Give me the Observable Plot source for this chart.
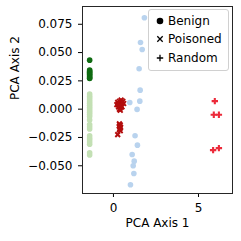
<!DOCTYPE html>
<html><head><meta charset="utf-8">
<script src="https://cdn.jsdelivr.net/npm/d3@7"></script>
<script src="https://cdn.jsdelivr.net/npm/@observablehq/plot@0.6"></script>
<style>
body{margin:0;background:#fff;}
#wrap{position:relative;width:241px;height:241px;font-family:"DejaVu Sans",sans-serif;}
#legend{position:absolute;left:148px;top:9px;width:79px;height:60px;border:1px solid #d0d0d0;border-radius:3px;background:rgba(255,255,255,0.85);font-size:12px;color:#000;}
.row{position:absolute;left:0;height:18px;line-height:18px;white-space:nowrap}
.sym{position:absolute;left:7px;top:5px;width:8px;height:8px}
.lab{position:absolute;left:19px}
</style></head>
<body>
<div id="wrap"></div>
<script>
// Tick values and labels
const xTicks = [0, 5];
const yTicks = [-0.05, -0.025, 0, 0.025, 0.05, 0.075];
const xLabel = "PCA Axis 1";
const yLabel = "PCA Axis 2";
const legendLabels = ["Benign", "Poisoned", "Random"];

// Benign, dark green column
const darkGreenX = [-1.4,-1.4,-1.4,-1.4,-1.4,-1.4,-1.4,-1.4,-1.4,-1.4];
const darkGreenY = [0.0433,0.0346,0.0336,0.0326,0.0316,0.0306,0.0296,0.0286,0.0276,0.0271];
// Benign, light green column
const lightGreenX = [-1.4,-1.4,-1.4,-1.4,-1.4,-1.4,-1.4,-1.4,-1.4,-1.4,-1.4,-1.4,-1.4,-1.4,-1.4,-1.4,-1.4,-1.4,-1.4,-1.4,-1.4,-1.4,-1.4,-1.4];
const lightGreenY = [0.0133,0.0115,0.0098,0.0082,0.0066,0.005,0.0034,0.0018,0.0002,-0.0014,-0.003,-0.0046,-0.0065,-0.0095,-0.0135,-0.0155,-0.0175,-0.0235,-0.0255,-0.027,-0.029,-0.031,-0.0385,-0.0405];
// Benign, light blue scatter
const blueX = [1.82,1.59,1.69,1.51,1.57,1.55,0.96,1.39,1.27,1.41,1.10,1.22,1.16,1.20,1.00];
const blueY = [0.0807,0.0589,0.0527,0.0357,0.0168,0.0071,0.0059,-0.0002,-0.0235,-0.0318,-0.040,-0.0459,-0.050,-0.0568,-0.0668];
// Poisoned
const poisonedX = [0.25,0.30,0.35,0.40,0.45,0.50,0.55,0.30,0.40,0.45,0.35,0.50,0.20,0.60,0.40,0.38,0.35,0.40,0.35,0.42,0.38,0.35,0.40,0.25];
const poisonedY = [0.006,0.004,0.007,0.005,0.008,0.006,0.007,0.002,0.001,0.003,0.000,0.002,0.004,0.005,-0.001,0.0035,-0.013,-0.014,-0.015,-0.016,-0.017,-0.018,-0.019,-0.0225];
// Random
const randomX = [5.96,5.90,6.20,5.86,6.20];
const randomY = [0.0071,-0.0049,-0.0049,-0.0362,-0.0344];

const pts = (xs, ys) => xs.map((x, i) => ({x, y: ys[i]}));

const plot = Plot.plot({
  width: 241, height: 241,
  marginLeft: 82, marginRight: 9, marginTop: 6, marginBottom: 48,
  style: {fontFamily: "DejaVu Sans", fontSize: "12px", color: "#000", background: "transparent"},
  x: {domain: [-1.82, 7.0]},
  y: {domain: [-0.0745, 0.0907]},
  marks: [
    Plot.axisX({ticks: xTicks, tickFormat: d3.format("d"), tickSize: 4, tickPadding: 6, label: null, fontSize: 12}),
    Plot.axisY({ticks: yTicks, tickFormat: d3.format(".3f"), tickSize: 4, tickPadding: 6, label: null, fontSize: 12}),
    Plot.dot(pts(lightGreenX, lightGreenY), {x: "x", y: "y", r: 2.8, fill: "#c3e0b4", stroke: "none"}),
    Plot.dot(pts(darkGreenX, darkGreenY), {x: "x", y: "y", r: 2.8, fill: "#0f6b12", stroke: "none"}),
    Plot.dot(pts(blueX, blueY), {x: "x", y: "y", r: 2.8, fill: "#b9d3ee", stroke: "none"}),
    Plot.dot(pts(poisonedX, poisonedY), {x: "x", y: "y", r: 2.3, symbol: "times", stroke: "#b30d0d", strokeWidth: 1.9}),
    Plot.dot(pts(randomX, randomY), {x: "x", y: "y", r: 2.2, symbol: "plus", stroke: "#ec2a3a", strokeWidth: 2.1}),
    Plot.frame({stroke: "#262626", strokeWidth: 1}),
    Plot.text([xLabel], {frameAnchor: "bottom", dy: 33, text: d => d, fontSize: 12}),
    Plot.text([yLabel], {frameAnchor: "left", dx: -67, rotate: -90, text: d => d, fontSize: 12})
  ]
});
const wrap = document.getElementById("wrap");
wrap.appendChild(plot);

const symSvg = [
  '<svg class="sym" viewBox="0 0 8 8"><circle cx="4" cy="4" r="3.3" fill="#000"/></svg>',
  '<svg class="sym" viewBox="0 0 8 8"><path d="M1.3,1.3L6.7,6.7M6.7,1.3L1.3,6.7" stroke="#000" stroke-width="1.3"/></svg>',
  '<svg class="sym" viewBox="0 0 8 8"><path d="M4,0.8V7.2M0.8,4H7.2" stroke="#000" stroke-width="1.3"/></svg>'
];
const leg = document.createElement("div");
leg.id = "legend";
const tops = [1.7, 20.3, 38.7];
legendLabels.forEach((t, i) => {
  const r = document.createElement("div");
  r.className = "row";
  r.style.top = tops[i] + "px";
  r.innerHTML = symSvg[i] + '<span class="lab"></span>';
  r.querySelector(".lab").textContent = t;
  leg.appendChild(r);
});
wrap.appendChild(leg);
</script>
</body></html>
